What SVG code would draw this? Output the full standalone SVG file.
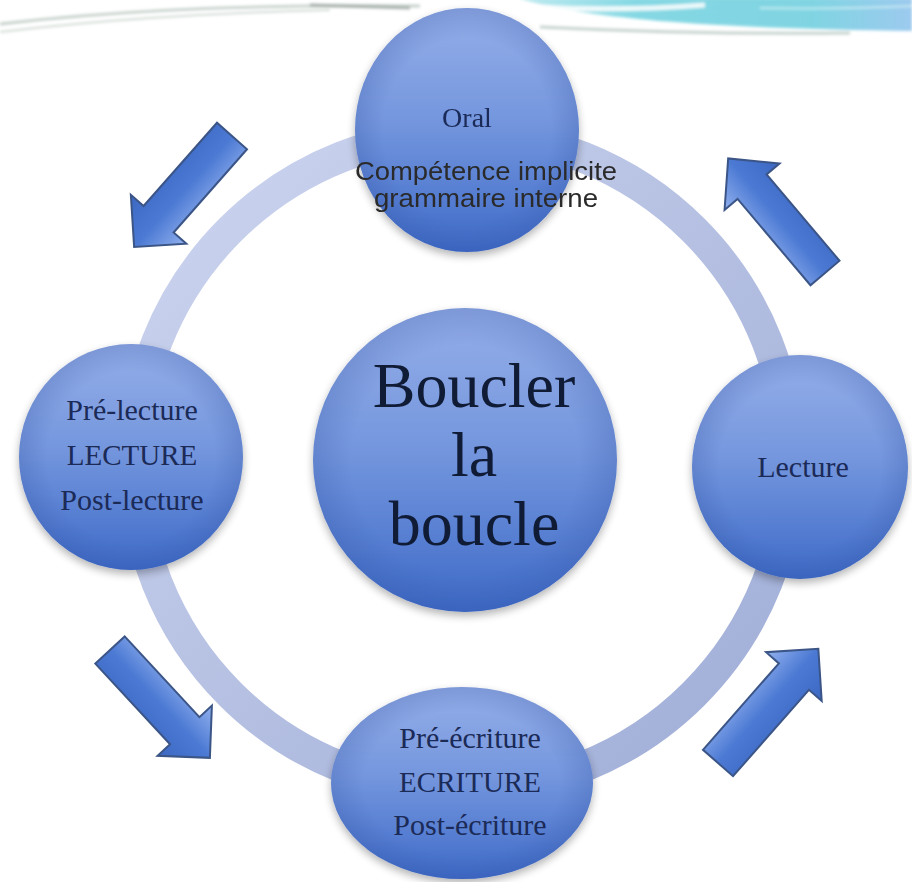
<svg xmlns="http://www.w3.org/2000/svg" width="912" height="882" viewBox="0 0 912 882">
<defs>
<style>
.t{font-family:"Liberation Serif","Times New Roman",serif;fill:#1b2a56;text-anchor:middle}
.s{font-family:"Liberation Sans",Arial,sans-serif;fill:#2a2a2a;text-anchor:middle}
.arrow{fill:url(#ag);stroke:#3b5587;stroke-width:2;stroke-linejoin:miter}
.node{fill:url(#cg);filter:url(#sh)}
.edge{fill:url(#eg)}
</style>
<linearGradient id="cg" x1="0" y1="0" x2="0" y2="1">
<stop offset="0" stop-color="#95aee8"/>
<stop offset="0.45" stop-color="#7597de"/>
<stop offset="1" stop-color="#3f6bc8"/>
</linearGradient>
<radialGradient id="eg" cx="0.5" cy="0.5" r="0.5">
<stop offset="0.75" stop-color="#2a4a9a" stop-opacity="0"/>
<stop offset="1" stop-color="#2a4a9a" stop-opacity="0.22"/>
</radialGradient>
<linearGradient id="rg" x1="0" y1="0" x2="1" y2="1">
<stop offset="0" stop-color="#cdd5ef"/>
<stop offset="1" stop-color="#9eacd6"/>
</linearGradient>
<linearGradient id="ag" x1="0" y1="0" x2="0" y2="1">
<stop offset="0" stop-color="#92b1ee"/>
<stop offset="0.5" stop-color="#4b79d3"/>
<stop offset="1" stop-color="#3c68c2"/>
</linearGradient>
<linearGradient id="tg" x1="0" y1="0" x2="1" y2="0">
<stop offset="0" stop-color="#bfeaf0"/>
<stop offset="0.3" stop-color="#84d8e3"/>
<stop offset="0.75" stop-color="#80d4e2"/>
<stop offset="1" stop-color="#9ccaee"/>
</linearGradient>
<filter id="sh" x="-20%" y="-20%" width="140%" height="150%">
<feGaussianBlur in="SourceAlpha" stdDeviation="4"/>
<feOffset dy="4"/>
<feComponentTransfer><feFuncA type="linear" slope="0.3"/></feComponentTransfer>
<feMerge><feMergeNode/><feMergeNode in="SourceGraphic"/></feMerge>
</filter>
<filter id="bl" x="-5%" y="-50%" width="110%" height="200%"><feGaussianBlur stdDeviation="1.5"/></filter>
</defs>
<rect width="912" height="882" fill="#ffffff"/>
<g id="decor" filter="url(#bl)">
<path d="M518,-2 C580,18 700,28 912,31 L912,-2 Z" fill="url(#tg)"/>
<path d="M540,7 C590,10 650,9 705,5" fill="none" stroke="#ffffff" stroke-width="5" opacity="0.85"/>
<path d="M760,8 C820,9 870,8 912,6" fill="none" stroke="#d8f4f6" stroke-width="2" opacity="0.7"/>
<path d="M540,27 C640,32 760,34 850,33" fill="none" stroke="#b8c8c2" stroke-width="3" opacity="0.8"/>
<path d="M0,24 C120,10 260,4 420,6" fill="none" stroke="#b8c6be" stroke-width="3" opacity="0.8"/>
<path d="M0,32 C100,20 200,13 330,10" fill="none" stroke="#d2dbd5" stroke-width="2"/>
<path d="M310,5 L410,8" fill="none" stroke="#8e9a94" stroke-width="3" opacity="0.7"/>
</g>
<g id="connectors">
<circle cx="462" cy="462" r="328" fill="none" stroke="url(#rg)" stroke-width="31"/>
<path class="arrow" transform="translate(232,136) rotate(131.4)" d="M0,-20 H111 V-37 L148,0 L111,37 V20 H0 Z"/>
<path class="arrow" transform="translate(825,273) rotate(-130.2)" d="M0,-19 H113 V-36 L150,0 L113,36 V19 H0 Z"/>
<path class="arrow" transform="translate(110,650) rotate(47.2)" d="M0,-20 H110 V-37 L147,0 L110,37 V20 H0 Z"/>
<path class="arrow" transform="translate(718,763) rotate(-48.7)" d="M0,-20 H115 V-37 L152,0 L115,37 V20 H0 Z"/>
</g>
<g id="node-oral">
<ellipse class="node" cx="467" cy="130" rx="112" ry="122"/>
<ellipse class="edge" cx="467" cy="130" rx="112" ry="122"/>
<text class="t" x="467" y="127" font-size="28">Oral</text>
<text class="s" x="486" y="180" font-size="25" textLength="262" lengthAdjust="spacingAndGlyphs">Compétence implicite</text>
<text class="s" x="486" y="207" font-size="25" textLength="224" lengthAdjust="spacingAndGlyphs">grammaire interne</text>
</g>
<g id="node-left">
<ellipse class="node" cx="131" cy="457" rx="112" ry="113"/>
<ellipse class="edge" cx="131" cy="457" rx="112" ry="113"/>
<text class="t" x="132" y="420" font-size="30">Pré-lecture</text>
<text class="t" x="132" y="465" font-size="29">LECTURE</text>
<text class="t" x="132" y="510" font-size="30">Post-lecture</text>
</g>
<g id="node-right">
<ellipse class="node" cx="800" cy="467" rx="108" ry="112"/>
<ellipse class="edge" cx="800" cy="467" rx="108" ry="112"/>
<text class="t" x="803" y="477" font-size="30">Lecture</text>
</g>
<g id="node-bottom">
<ellipse class="node" cx="462" cy="783" rx="131" ry="96"/>
<ellipse class="edge" cx="462" cy="783" rx="131" ry="96"/>
<text class="t" x="470" y="748" font-size="30">Pré-écriture</text>
<text class="t" x="470" y="792" font-size="29">ECRITURE</text>
<text class="t" x="470" y="835" font-size="30">Post-écriture</text>
</g>
<g id="node-center">
<circle class="node" cx="465" cy="460" r="152"/>
<circle class="edge" cx="465" cy="460" r="152"/>
<text class="t" x="474" y="407" font-size="64" style="fill:#101b36">Boucler</text>
<text class="t" x="474" y="476" font-size="64" style="fill:#101b36">la</text>
<text class="t" x="474" y="545" font-size="64" style="fill:#101b36">boucle</text>
</g>
</svg>
